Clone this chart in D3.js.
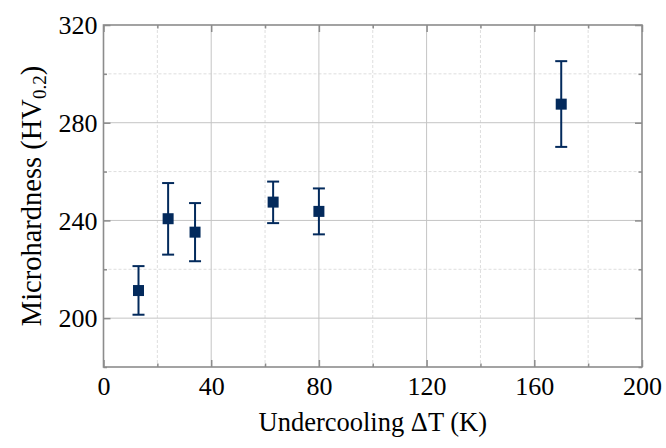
<!DOCTYPE html>
<html>
<head>
<meta charset="utf-8">
<script src="https://cdn.jsdelivr.net/npm/d3@7"></script>
<style>
  body { margin: 0; background: #fff; }
  svg text { font-family: "Liberation Serif", "Times New Roman", serif; fill: #000; }
  .frame { fill: none; stroke: #8c8c8c; stroke-width: 1.6; }
  .grid-major line { stroke: #c4c4c4; stroke-width: 1; }
  .grid-minor line { stroke: #dedede; stroke-width: 1; stroke-dasharray: 3,2; }
  .axis path { display: none; }
  .axis line { stroke: #8c8c8c; stroke-width: 1.5; }
</style>
</head>
<body>
<div id="chart"></div>
<script>
var w = 666, h = 448;

// data
var undercooling = [13, 24, 34, 63, 80, 170];
var hardness     = [211.3, 240.7, 235.2, 247.5, 243.7, 287.6];
var errUpper     = [221.3, 255.3, 247.1, 255.9, 253.1, 305.2];
var errLower     = [201.4, 226.0, 223.3, 238.9, 234.3, 270.1];

var xMajor = [0, 40, 80, 120, 160, 200];
var xMinor = [20, 60, 100, 140, 180];
var yMajor = [200, 240, 280, 320];
var yMinor = [180, 220, 260, 300];

// window.top is reserved, so plot edges get their own names
var pLeft = 103.5, pRight = 642, pTop = 25, pBottom = 367;

var svg = d3.select("#chart").append("svg")
  .attr("width", w).attr("height", h);

var x = d3.scaleLinear().domain([0, 200]).range([pLeft, pRight]);
var y = d3.scaleLinear().domain([180, 320]).range([pBottom, pTop]);

/*
 * grid
 */
svg.append("g").attr("class", "grid-minor")
  .selectAll("line").data(xMinor).enter().append("line")
  .attr("x1", d => x(d)).attr("x2", d => x(d))
  .attr("y1", pTop).attr("y2", pBottom);
svg.append("g").attr("class", "grid-minor")
  .selectAll("line").data(yMinor.filter(d => d > 180)).enter().append("line")
  .attr("x1", pLeft).attr("x2", pRight)
  .attr("y1", d => y(d)).attr("y2", d => y(d));
svg.append("g").attr("class", "grid-major")
  .selectAll("line").data(xMajor.slice(1, -1)).enter().append("line")
  .attr("x1", d => x(d)).attr("x2", d => x(d))
  .attr("y1", pTop).attr("y2", pBottom);
svg.append("g").attr("class", "grid-major")
  .selectAll("line").data(yMajor.slice(0, -1)).enter().append("line")
  .attr("x1", pLeft).attr("x2", pRight)
  .attr("y1", d => y(d)).attr("y2", d => y(d));

/*
 * axes (ticks point inward)
 */
var xAxis = svg.append("g").attr("class", "axis")
  .attr("transform", "translate(0," + pBottom + ")")
  .call(d3.axisBottom(x).tickValues(xMajor).tickSize(-7).tickPadding(10).tickFormat(d3.format("d")));
xAxis.selectAll("text").attr("font-size", 26).attr("y", 28).attr("dy", 0);

svg.append("g").attr("class", "axis")
  .attr("transform", "translate(0," + pBottom + ")")
  .call(d3.axisBottom(x).tickValues(xMinor).tickSize(-3.5).tickFormat(""));
svg.append("g").attr("class", "axis")
  .attr("transform", "translate(0," + pTop + ")")
  .call(d3.axisTop(x).tickValues(xMajor).tickSize(-7).tickFormat(""));
svg.append("g").attr("class", "axis")
  .attr("transform", "translate(0," + pTop + ")")
  .call(d3.axisTop(x).tickValues(xMinor).tickSize(-3.5).tickFormat(""));

var yAxis = svg.append("g").attr("class", "axis")
  .attr("transform", "translate(" + pLeft + ",0)")
  .call(d3.axisLeft(y).tickValues(yMajor).tickSize(-7).tickFormat(d3.format("d")));
yAxis.selectAll("text").attr("font-size", 26).attr("x", -6).attr("dy", "0.33em");

svg.append("g").attr("class", "axis")
  .attr("transform", "translate(" + pLeft + ",0)")
  .call(d3.axisLeft(y).tickValues(yMinor).tickSize(-3.5).tickFormat(""));
svg.append("g").attr("class", "axis")
  .attr("transform", "translate(" + pRight + ",0)")
  .call(d3.axisRight(y).tickValues(yMajor).tickSize(-7).tickFormat(""));
svg.append("g").attr("class", "axis")
  .attr("transform", "translate(" + pRight + ",0)")
  .call(d3.axisRight(y).tickValues(yMinor).tickSize(-3.5).tickFormat(""));

svg.append("rect").attr("class", "frame")
  .attr("x", pLeft).attr("y", pTop)
  .attr("width", pRight - pLeft).attr("height", pBottom - pTop);

/*
 * error bars and points
 */
var navy = "#032a5c";
var pts = undercooling.map(function (u, i) {
  return { x: u, y: hardness[i], hi: errUpper[i], lo: errLower[i] };
});

var eb = svg.append("g").attr("stroke", navy).attr("stroke-width", 2);
eb.selectAll(".stem").data(pts).enter().append("line")
  .attr("x1", d => x(d.x)).attr("x2", d => x(d.x))
  .attr("y1", d => y(d.hi)).attr("y2", d => y(d.lo));
eb.selectAll(".capHi").data(pts).enter().append("line")
  .attr("x1", d => x(d.x) - 6).attr("x2", d => x(d.x) + 6)
  .attr("y1", d => y(d.hi)).attr("y2", d => y(d.hi));
eb.selectAll(".capLo").data(pts).enter().append("line")
  .attr("x1", d => x(d.x) - 6).attr("x2", d => x(d.x) + 6)
  .attr("y1", d => y(d.lo)).attr("y2", d => y(d.lo));

svg.append("g").selectAll("rect").data(pts).enter().append("rect")
  .attr("x", d => x(d.x) - 5.5).attr("y", d => y(d.y) - 5.5)
  .attr("width", 11).attr("height", 11)
  .attr("fill", navy);

/*
 * titles
 */
svg.append("text")
  .attr("x", (pLeft + pRight) / 2).attr("y", 431)
  .attr("text-anchor", "middle").attr("font-size", 26.5)
  .text("Undercooling \u0394T (K)");

var yt = svg.append("text")
  .attr("transform", "translate(41," + ((pTop + pBottom) / 2) + ") rotate(-90)")
  .attr("text-anchor", "middle").attr("font-size", 28.5);
yt.append("tspan").text("Microhardness (HV");
yt.append("tspan").attr("font-size", 19).attr("dy", 5).text("0.2");
yt.append("tspan").attr("dy", -5).text(")");
</script>
</body>
</html>
